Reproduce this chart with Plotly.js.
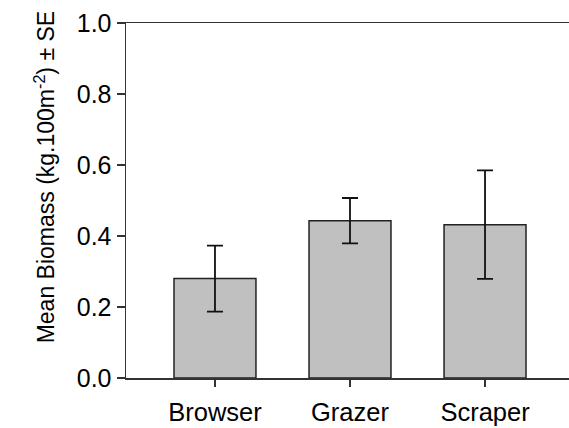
<!DOCTYPE html>
<html>
<head>
<meta charset="utf-8">
<script src="https://cdn.plot.ly/plotly-3.0.1.min.js"></script>
<style>html,body{margin:0;padding:0;background:#fff;}#chart{width:569px;height:428px;}</style>
</head>
<body>
<div id="chart"></div>
<script>
const categories = ["Browser", "Grazer", "Scraper"];
const meanBiomass = [0.280, 0.443, 0.432];
const seValues = [0.093, 0.064, 0.153];
const yTickVals = [0.0, 0.2, 0.4, 0.6, 0.8, 1.0];
const yTickText = ["0.0", "0.2", "0.4", "0.6", "0.8", "1.0"];

const font = "Arial, 'Liberation Sans', sans-serif";

const trace = {
  type: "bar",
  x: [0, 1, 2],
  y: meanBiomass,
  width: 0.607,
  marker: { color: "#c0c0c0", line: { color: "#222", width: 1.5 } },
  error_y: { type: "data", array: seValues, visible: true, color: "#111", thickness: 1.8, width: 8 },
  hoverinfo: "none"
};

const layout = {
  width: 569, height: 428,
  margin: { l: 126, r: 0, t: 23, b: 50 },
  paper_bgcolor: "#fff", plot_bgcolor: "#fff",
  showlegend: false,
  font: { family: font, color: "#000", size: 25 },
  xaxis: {
    range: [-0.659, 2.622],
    tickvals: [0, 1, 2],
    ticktext: categories,
    ticks: "outside", ticklen: 7, tickwidth: 1.5, tickcolor: "#333",
    showline: true, linecolor: "#333", linewidth: 1.5, mirror: true,
    showgrid: false, zeroline: false,
    ticklabelstandoff: 4,
    tickfont: { family: font, size: 25.5, color: "#000" }
  },
  yaxis: {
    range: [0, 1],
    tickvals: yTickVals,
    ticktext: yTickText,
    ticks: "outside", ticklen: 8, tickwidth: 1.5, tickcolor: "#333",
    showline: true, linecolor: "#333", linewidth: 1.5, mirror: false,
    showgrid: false, zeroline: false,
    tickfont: { family: font, size: 25, color: "#000" }
  },
  annotations: [{
    text: "Mean Biomass (kg.100m<sup>-2</sup>) ± SE",
    textangle: -90,
    xref: "paper", yref: "paper",
    x: -0.183, y: 0.565,
    xanchor: "center", yanchor: "middle",
    showarrow: false,
    font: { family: font, size: 23, color: "#000" }
  }]
};

Plotly.newPlot("chart", [trace], layout, { staticPlot: true, displayModeBar: false });
</script>
</body>
</html>
